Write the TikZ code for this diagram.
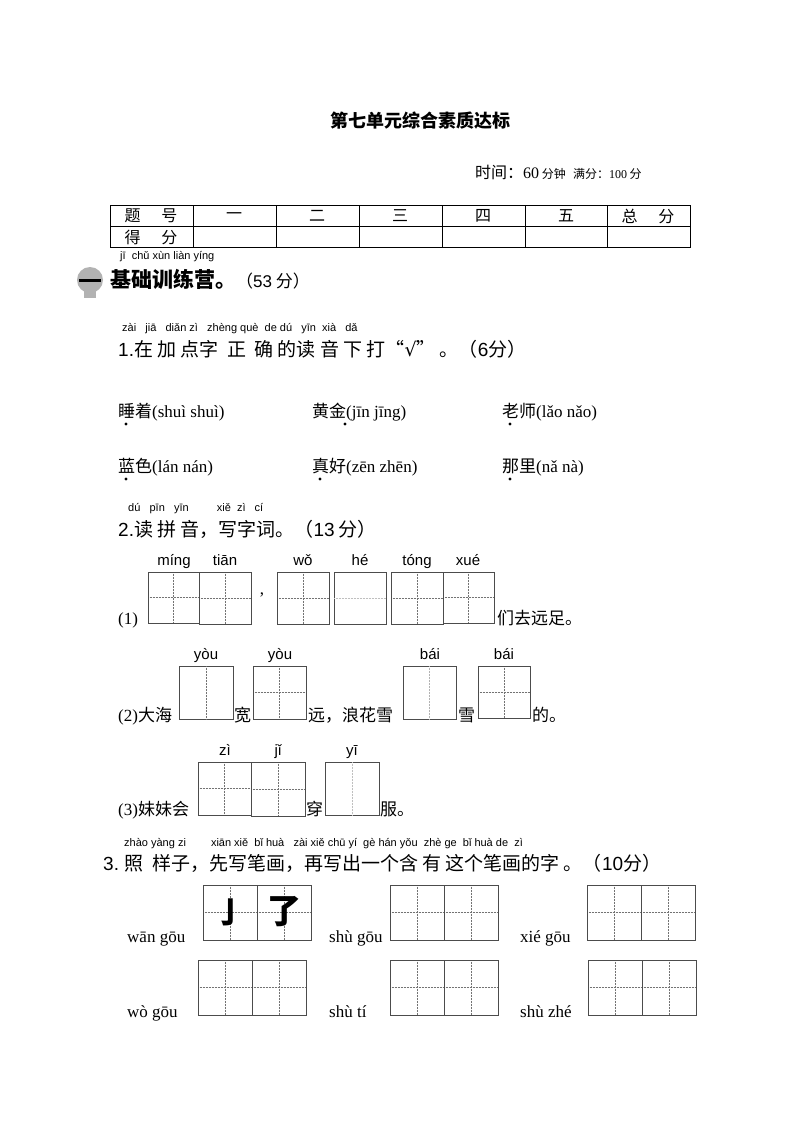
\documentclass[tikz,border=0pt]{standalone}
\usepackage{fontspec}
\setmainfont{Liberation Serif}
\newfontfamily\cjk{Noto Sans CJK SC}
\newfontfamily\py{Liberation Sans}
\newfontfamily\sym{DejaVu Sans}
\begin{document}
\begin{tikzpicture}[x=1pt,y=-1pt,
  lab/.style={anchor=base west,inner sep=0pt},
  pyl/.style={anchor=base,inner sep=0pt,font=\py\fontsize{15}{15}\selectfont},
  pys/.style={anchor=base west,inner sep=0pt,font=\py\fontsize{11}{11}\selectfont},
  qt/.style={anchor=base west,inner sep=0pt,font=\cjk\fontsize{19}{19}\selectfont},
  it/.style={anchor=base west,inner sep=0pt,font=\cjk\fontsize{17}{17}\selectfont},
  opt/.style={anchor=base west,inner sep=0pt,font=\fontsize{17}{17}\selectfont},
  grid/.style={draw=black!55,line width=0.5pt,densely dotted},
  boxl/.style={draw=black!70,line width=0.9pt}]
\useasboundingbox (0,0) rectangle (800,1132);
\fill[white] (0,0) rectangle (800,1132);
\newcommand\tzg[3]{%
  \draw[grid] ({(#1+#2)/2},#3) -- ({(#1+#2)/2},{#3+#2-#1});
  \draw[grid] (#1,{#3+(#2-#1)/2}) -- (#2,{#3+(#2-#1)/2});
  \draw[boxl] (#1,#3) rectangle (#2,{#3+#2-#1});}
% title
\node[anchor=base,inner sep=0pt,font=\cjk\bfseries\fontsize{18}{18}\selectfont] (title) at (420,127) {第七单元综合素质达标};
\node[lab,font=\cjk\fontsize{16}{16}\selectfont] (time) at (475,178) {时间：{\rmfamily 60}\,{\fontsize{12}{12}\selectfont 分钟}\ \ {\fontsize{12}{12}\selectfont 满分：{\rmfamily 100} 分}};
% table
\draw[line width=0.9pt] (110,205) rectangle (690,247);
\draw[line width=0.7pt] (110,226) -- (690,226);
\foreach \x in {193,276,359,442,525,607} \draw[line width=0.7pt] (\x,205) -- (\x,247);
\begin{scope}[every node/.style={inner sep=0pt,font=\cjk\fontsize{16}{16}\selectfont}]
\node (h0) at (151,216) {题\hspace{1.3em}号};
\node (h1) at (234,216) {一}; \node (h2) at (317,216) {二}; \node (h3) at (400,216) {三};
\node (h4) at (483,216) {四}; \node (h5) at (566,216) {五}; \node (h6) at (648,216) {总\hspace{1.3em}分};
\node (r0) at (151,237) {得\hspace{1.3em}分};
\end{scope}
% section header
\fill[black!30] (90,280) circle (13);
\fill[black!30] (84,290) rectangle (96,298);
\draw[line width=3pt] (79,280) -- (101,280);
\node[pys] (p0) at (120,259) {jī\ \ chǔ xùn liàn yíng};
\node[lab,font=\cjk\bfseries\fontsize{21}{21}\selectfont] (sec) at (110,287) {基础训练营。{\mdseries\fontsize{17}{17}\selectfont（{\py 53} 分）}};
% Q1
\node[pys] (p1) at (122,331) {zài\ \ \ jiā\ \ \ diǎn zì\ \ \ zhèng què\ \ de\ dú\ \ \ yīn\ \ xià\ \ \ dǎ};
\node[qt] (q1) at (118,356) {{\py 1.}在\ 加\ 点字\ \ 正\ \ 确\ 的读\ 音\ 下\ 打“{\sym √}”\ 。（{\py 6}分）};
\node[opt] (o1) at (118,417) {{\cjk 睡着}(shuì shuì)};
\node[opt] (o2) at (312,417) {{\cjk 黄金}(jīn jīng)};
\node[opt] (o3) at (502,417) {{\cjk 老师}(lǎo nǎo)};
\node[opt] (o4) at (118,472) {{\cjk 蓝色}(lán nán)};
\node[opt] (o5) at (312,472) {{\cjk 真好}(zēn zhēn)};
\node[opt] (o6) at (502,472) {{\cjk 那里}(nǎ nà)};
\foreach \x/\y in {126/424,345/424,510/424,126/479,320/479,510/479} \fill (\x,\y) circle (1.6);
% Q2
\node[pys] (p2) at (128,511) {dú\ \ \ pīn\ \ \ yīn\qquad\ \ xiě\ \ zì\ \ \ cí};
\node[qt] (q2) at (118,536) {{\py 2.}读\ 拼\ 音，写字词。（{\py 13} 分）};
\tzg{148}{199}{572}\tzg{199}{251}{572}
\node[anchor=base,inner sep=0pt,font=\fontsize{17}{17}\selectfont] (cm) at (262,594) {,};
\tzg{277}{329}{572}
\draw[boxl] (334,572) rectangle (386,624);
\draw[grid,black!25] (334,598) -- (386,598);
\tzg{391}{443}{572}\tzg{443}{494}{572}
\foreach \x/\t in {174/míng,225/tiān,303/wǒ,360/hé,417/tóng,468/xué} \node[pyl] at (\x,565) {\t};
\node[opt] (l1) at (118,624) {(1)};
\node[it] (t1) at (497,624) {们去远足。};
% (2)
\draw[boxl] (179,666) rectangle (233,719); \draw[grid] (206,666) -- (206,719);
\tzg{253}{306}{666}
\draw[boxl] (403,666) rectangle (456,719); \draw[grid,black!30] (429,666) -- (429,719);
\tzg{478}{530}{666}
\foreach \x/\t in {206/yòu,280/yòu,430/bái,504/bái} \node[pyl] at (\x,659) {\t};
\node[opt] (l2) at (118,721) {(2){\cjk 大海}};
\node[it] (t2a) at (234,721) {宽};
\node[it] (t2b) at (308,721) {远，浪花雪};
\node[it] (t2c) at (458,721) {雪};
\node[it] (t2d) at (532,721) {的。};
% (3)
\tzg{198}{251}{762}\tzg{251}{305}{762}
\draw[boxl] (325,762) rectangle (379,815); \draw[grid,black!25] (352,762) -- (352,815);
\foreach \x/\t in {225/zì,278/jǐ,352/yī} \node[pyl] at (\x,755) {\t};
\node[opt] (l3) at (118,815) {(3){\cjk 妹妹会}};
\node[it] (t3a) at (306,815) {穿};
\node[it] (t3b) at (380,815) {服。};
% Q3
\node[pys] (p3) at (124,846) {zhào yàng zi\qquad\ xiān xiě\ \ bǐ huà\ \ \ zài xiě chū yí\ \ gè hán yǒu\ \ zhè ge\ \ bǐ huà de\ \ zì};
\node[qt] (q3) at (103,870) {{\py 3.} 照\ \ 样子，先写笔画，再写出一个含\ 有\ 这个笔画的字\ 。（{\py 10}分）};
\foreach \x/\y in {203/885,390/885,587/885,198/960,390/960,588/960} {
  \draw[grid] (\x+27,\y) -- (\x+27,\y+55); \draw[grid] (\x+81,\y) -- (\x+81,\y+55);
  \draw[grid] (\x,\y+27.5) -- (\x+108,\y+27.5);
  \draw[boxl] (\x,\y) rectangle (\x+108,\y+55); \draw[boxl] (\x+54,\y) -- (\x+54,\y+55);}
\node[inner sep=0pt,font=\cjk\bfseries\fontsize{30}{30}\selectfont] (s1) at (230,912) {亅};
\node[inner sep=0pt,font=\cjk\bfseries\fontsize{34}{34}\selectfont] (s2) at (284,912) {了};
\node[opt] (w1) at (127,942) {wān gōu};
\node[opt] (w2) at (329,942) {shù gōu};
\node[opt] (w3) at (520,942) {xié gōu};
\node[opt] (w4) at (127,1017) {wò gōu};
\node[opt] (w5) at (329,1017) {shù tí};
\node[opt] (w6) at (520,1017) {shù zhé};
\end{tikzpicture}
\end{document}
